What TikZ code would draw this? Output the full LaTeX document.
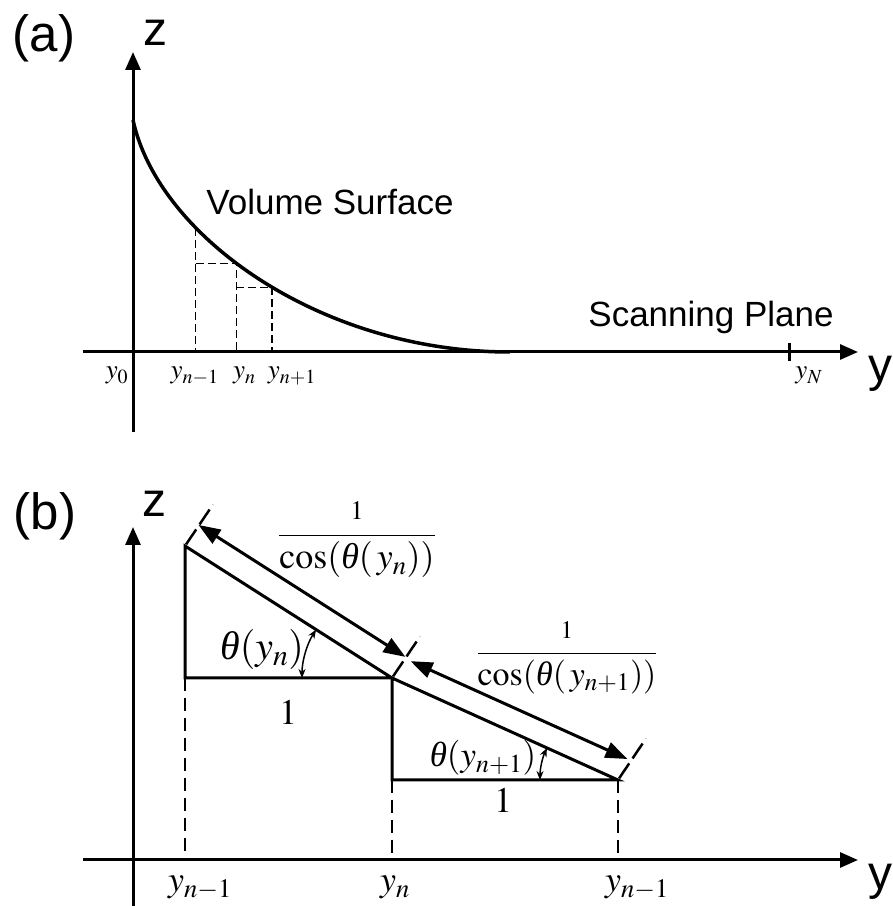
\documentclass[tikz,border=0pt]{standalone}
\usepackage{mathptmx}
\usepackage[no-math]{fontspec}
\setmainfont{Liberation Sans}
\newfontfamily\serifit{Liberation Serif}
\newcommand{\angth}{\mbox{\serifit\itshape θ}}
\usetikzlibrary{arrows.meta,calc}

\begin{document}
\begin{tikzpicture}[x=1pt,y=1pt]
  \tikzset{axisline/.style={draw=black,line width=3pt,-{Triangle[length=18pt,width=15pt]}}}
  \tikzset{surfaceline/.style={draw=black,line width=3.5pt}}
  \tikzset{guideline/.style={draw=black,line width=1.2pt,dash pattern=on 8pt off 4pt}}
  \tikzset{dropline/.style={draw=black,line width=2.5pt,dash pattern=on 13pt off 7pt}}
  \tikzset{edgeline/.style={draw=black,line width=3pt}}
  \tikzset{endtick/.style={draw=black,line width=2.5pt,dash pattern=on 18pt off 6pt}}
  \tikzset{lengtharrow/.style={draw=black,line width=3pt,{Triangle[length=22pt,width=16pt]}-{Triangle[length=22pt,width=16pt]}}}
  \tikzset{anglearrow/.style={draw=black,line width=1.5pt,{Stealth[length=9pt,width=7pt]}-{Stealth[length=9pt,width=7pt]}}}
  \tikzset{panellabel/.style={font=\fontsize{51}{60}\selectfont,inner sep=0pt}}
  \tikzset{axislabel/.style={font=\fontsize{48}{58}\selectfont,inner sep=0pt}}
  \tikzset{textlabel/.style={font=\fontsize{35}{42}\selectfont,inner sep=0pt,anchor=base}}
  \tikzset{ticklabel/.style={font=\fontsize{27}{32}\selectfont,inner sep=0pt,anchor=base}}
  \tikzset{baselabel/.style={font=\fontsize{36}{44}\selectfont,inner sep=0pt,anchor=base}}
  \tikzset{mathlabel/.style={font=\fontsize{40}{48}\selectfont,inner sep=0pt}}
  \tikzset{fraclabel/.style={font=\fontsize{36}{44}\selectfont,inner sep=0pt}}
  \useasboundingbox (0,0) rectangle (893,906);

  % (a) volume surface over the scanning plane
  \coordinate (oa) at (133,554);
  \coordinate (za0) at (133,474);
  \coordinate (za1) at (133,854);
  \coordinate (ya0) at (83,554);
  \coordinate (ya1) at (858,554);
  \coordinate (sa) at (133,786);
  \coordinate (sb) at (510,554);
  \coordinate (tN) at (789,554);
  \draw[axisline] (za0) -- (za1);
  \draw[axisline] (ya0) -- (ya1);
  \draw[surfaceline] (sa) .. controls (158,670) and (320,554) .. (sb)
    coordinate[pos=0.32] (s1) coordinate[pos=0.44] (s2) coordinate[pos=0.53] (s3);
  \draw[guideline] (s1) -- (s1 |- oa);
  \draw[guideline] (s1 |- s2) -- (s2) -- (s2 |- oa);
  \draw[guideline] (s2 |- s3) -- (s3) -- (s3 |- oa);
  \draw[edgeline] ($(tN)+(0,-9)$) -- ($(tN)+(0,9)$);
  \node[panellabel] (lbla) at (44,868) {(a)};
  \node[axislabel] (za) at (155,873) {z};
  \node[axislabel] (ya) at (880,532) {y};
  \node[textlabel] (surf) at (330,691) {Volume Surface};
  \node[textlabel] (scan) at (711,579) {Scanning Plane};
  \node[ticklabel] (ly0) at (117,527) {$y_0$};
  \node[ticklabel] (lya) at ($(s1 |- oa)+(-1,-27)$) {$y_{n-1}$};
  \node[ticklabel] (lyb) at ($(s2 |- oa)+(8,-27)$) {$y_n$};
  \node[ticklabel] (lyc) at ($(s3 |- oa)+(20,-27)$) {$y_{n+1}$};
  \node[ticklabel] (lyN) at ($(tN)+(20,-27)$) {$y_N$};

  % (b) two steps of the surface
  \coordinate (ob) at (133,46);
  \coordinate (zb0) at (133,0);
  \coordinate (zb1) at (133,379);
  \coordinate (yb0) at (83,46);
  \coordinate (yb1) at (858,46);
  \coordinate (pA) at (185,360);
  \coordinate (pB) at (185,228);
  \coordinate (pC) at (392,228);
  \coordinate (pD) at (392,126);
  \coordinate (pE) at (618,126);
  \draw[axisline] (zb0) -- (zb1);
  \draw[axisline] (yb0) -- (yb1);
  \draw[edgeline] (pA) -- (pB) -- (pC) -- cycle;
  \draw[edgeline] (pC) -- (pD) -- (pE) -- cycle;
  \draw[dropline] (pB) -- (pB |- ob);
  \draw[dropline] (pD) -- (pD |- ob);
  \draw[dropline] (pE) -- (pE |- ob);
  \draw[endtick] ($(pA)+(56:2)$) -- ($(pA)+(56:50)$);
  \draw[endtick] ($(pC)+(56:2)$) -- ($(pC)+(56:50)$);
  \draw[endtick] ($(pE)+(56:2)$) -- ($(pE)+(56:50)$);
  \draw[lengtharrow] ($(pA)+(57.5:25)$) -- ($(pC)+(57.5:25)$);
  \draw[lengtharrow] ($(pC)+(65.7:23)+(-24.3:10)$) -- ($(pE)+(65.7:23)$);
  \draw[anglearrow] ($(pC)+(180:90)$) arc[start angle=180,end angle=147.5,radius=90];
  \draw[anglearrow] ($(pE)+(180:78)$) arc[start angle=180,end angle=155.7,radius=78];
  \node[panellabel] (lblb) at (45,390) {(b)};
  \node[axislabel] (zb) at (154,402) {z};
  \node[axislabel] (yb) at (880,24) {y};
  \node[mathlabel] (th1) at (262,256) {$\angth(y_n)$};
  \node[mathlabel,font=\fontsize{35}{42}\selectfont] (th2) at (483,148) {$\angth(y_{n+1})$};
  \node[mathlabel,font=\fontsize{36}{44}\selectfont] (one1) at (288,194) {$1$};
  \node[mathlabel,font=\fontsize{36}{44}\selectfont] (one2) at (503,106) {$1$};
  \node[fraclabel] (fr1) at (357,366) {$\displaystyle\frac{\scriptstyle 1}{\cos(\angth(\,y_n))}$};
  \node[fraclabel,font=\fontsize{34}{41}\selectfont] (fr2) at (567,248) {$\displaystyle\frac{\scriptstyle 1}{\cos(\angth(\,y_{n+1}))}$};
  \node[baselabel] (lb1) at (200,14) {$y_{n-1}$};
  \node[baselabel] (lb2) at (395,14) {$y_n$};
  \node[baselabel] (lb3) at (637,14) {$y_{n-1}$};
\end{tikzpicture}
\end{document}
